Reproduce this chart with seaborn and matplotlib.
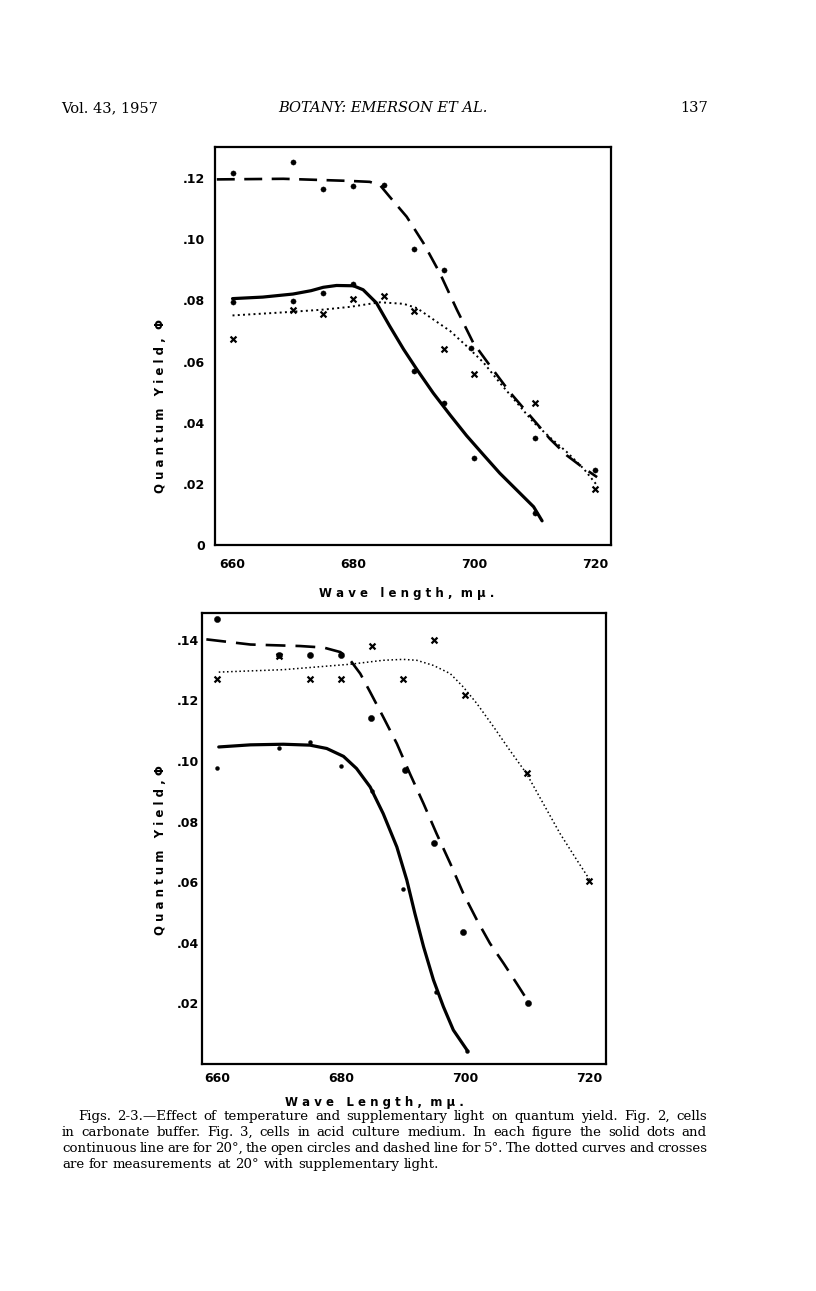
import matplotlib
matplotlib.use("Agg")
import matplotlib.pyplot as plt
import seaborn as sns

# ---------------- data: Fig. 2 (top) ----------------
top_pts_x = [660, 670, 675, 680, 690, 695, 700, 710]
top_dots20_y = [0.0794, 0.0799, 0.0823, 0.0855, 0.0569, 0.0464, 0.0285, 0.0105]

top_pts5_x = [660, 670, 675, 680, 685, 690, 695, 699.5, 710, 720]
top_dots5_y = [0.1216, 0.1252, 0.1165, 0.1176, 0.1179, 0.0969, 0.0898, 0.0644, 0.0349, 0.0244]

top_cross_x = [660, 670, 675, 680, 685, 690, 695, 700, 710, 720]
top_cross_y = [0.0675, 0.0770, 0.0757, 0.0806, 0.0816, 0.0765, 0.0640, 0.0559, 0.0463, 0.0184]

top_solid_cx = [660, 665, 670, 673, 675, 677.2, 680, 681.6, 683.8, 686, 688.3, 690.5, 693.2, 696,
                698.7, 701.5, 704.2, 707, 709.8, 711.2]
top_solid_cy = [0.0806, 0.0811, 0.0821, 0.0832, 0.0843, 0.0849, 0.0848, 0.0835, 0.0792, 0.0716,
                0.0640, 0.0574, 0.0497, 0.0425, 0.0358, 0.0295, 0.0235, 0.0180, 0.0125, 0.0079]

top_dash_cx = [657.4, 668.4, 679.4, 682.7, 684.4, 686, 688.8, 691.6, 694.3, 697.1, 699.8, 702.6,
               705.9, 709.2, 712.5, 715.3, 717.5, 720.3]
top_dash_cy = [0.1196, 0.1198, 0.1191, 0.1188, 0.1177, 0.1139, 0.1074, 0.0987, 0.0889, 0.0770,
               0.0662, 0.0586, 0.0499, 0.0423, 0.0347, 0.0293, 0.0260, 0.0222]

top_dot_cx = [660, 668.4, 675, 679.4, 684.4, 688.3, 690.5, 693.2, 696, 698.7, 701.5, 704.2, 707,
              709.8, 712.5, 715.3, 718.1, 720.3]
top_dot_cy = [0.0751, 0.0761, 0.0770, 0.0779, 0.0794, 0.0789, 0.0775, 0.0738, 0.0700, 0.0651,
              0.0597, 0.0531, 0.0466, 0.0401, 0.0352, 0.0304, 0.0249, 0.0195]

top_yticks = [0.0, 0.02, 0.04, 0.06, 0.08, 0.10, 0.12]
top_yticklabels = ["0", ".02", ".04", ".06", ".08", ".10", ".12"]

# ---------------- data: Fig. 3 (bottom) ----------------
bot_dots20_x = [660, 670, 675, 680, 685, 690, 695.3, 700.3]
bot_dots20_y = [0.0978, 0.1043, 0.1064, 0.0982, 0.0901, 0.0578, 0.0238, 0.0043]

bot_dots5_x = [660, 670, 675, 680, 684.8, 690.3, 695, 699.7, 710.2]
bot_dots5_y = [0.1467, 0.1348, 0.1351, 0.1351, 0.1140, 0.0969, 0.0730, 0.0436, 0.0200]

bot_cross_x = [660, 670, 675, 680, 685, 690, 695, 700, 710, 720]
bot_cross_y = [0.1269, 0.1346, 0.1269, 0.1269, 0.1379, 0.1269, 0.1400, 0.1216, 0.0959, 0.0603]

bot_solid_cx = [660.3, 665.4, 670.7, 675, 677.7, 680.4, 682.5, 684.7, 686.8, 689, 690.6, 691.9,
                693.3, 694.9, 696.5, 698.1, 700.3]
bot_solid_cy = [0.1046, 0.1053, 0.1055, 0.1052, 0.1041, 0.1015, 0.0975, 0.0914, 0.0826, 0.0716,
                0.0607, 0.0497, 0.0387, 0.0277, 0.0189, 0.0112, 0.0046]

bot_dash_cx = [658.3, 665.4, 673.4, 677.2, 679.9, 681.5, 683.1, 684.7, 686.8, 689, 691.1, 693.3,
               695.4, 697.6, 699.7, 701.9, 704, 706.2, 708.3, 710.2]
bot_dash_cy = [0.1401, 0.1384, 0.1379, 0.1374, 0.1359, 0.1332, 0.1288, 0.1227, 0.1145, 0.1057,
               0.0958, 0.0859, 0.0760, 0.0662, 0.0563, 0.0475, 0.0398, 0.0332, 0.0266, 0.0205]

bot_dot_cx = [660.3, 665.4, 670.7, 676.1, 681.5, 686.8, 690, 692.2, 694.9, 697.6, 699.7, 701.9,
              704.6, 707.2, 709.9, 712.6, 715.3, 718, 720.1]
bot_dot_cy = [0.1293, 0.1297, 0.1301, 0.1310, 0.1319, 0.1332, 0.1335, 0.1332, 0.1315, 0.1288,
              0.1244, 0.1189, 0.1112, 0.1035, 0.0958, 0.0859, 0.0760, 0.0673, 0.0607]

bot_yticks = [0.02, 0.04, 0.06, 0.08, 0.10, 0.12, 0.14]
bot_yticklabels = [".02", ".04", ".06", ".08", ".10", ".12", ".14"]

xticks = [660, 680, 700, 720]
xticklabels = ["660", "680", "700", "720"]

header_left = "Vol. 43, 1957"
header_mid = "BOTANY: EMERSON ET AL."
header_right = "137"
caption_lines = [
    "Figs. 2-3.\u2014Effect of temperature and supplementary light on quantum yield.  Fig. 2, cells",
    "in carbonate buffer.  Fig. 3, cells in acid culture medium.  In each figure the solid dots and",
    "continuous line are for 20\u00b0, the open circles and dashed line for 5\u00b0.   The dotted curves and crosses",
    "are for measurements at 20\u00b0 with supplementary light.",
]

# ---------------- figure ----------------
sns.set_theme(style="white")
plt.rcParams["font.family"] = ["DejaVu Sans"]
for k in ["text.color", "axes.labelcolor", "xtick.color", "ytick.color", "axes.edgecolor"]:
    plt.rcParams[k] = "black"
W, H = 816, 1291
fig = plt.figure(figsize=(W / 100, H / 100), dpi=100)
fig.patch.set_facecolor("white")


def px_axes(l, r, t, b):
    return fig.add_axes([l / W, 1 - b / H, (r - l) / W, (b - t) / H])


ax1 = px_axes(215, 611, 147, 545)
ax2 = px_axes(202, 606, 613, 1064)


def spaced(s):
    return " ".join(s)


def draw(ax, solid, dash, dot, dots20, dots5, cross, dash_pat, s20, s5, dot_lw):
    sns.lineplot(x=solid[0], y=solid[1], ax=ax, color="black", linewidth=2.3, sort=False)
    sns.lineplot(x=dash[0], y=dash[1], ax=ax, color="black", linewidth=1.9, sort=False,
                 linestyle=(0, dash_pat))
    sns.lineplot(x=dot[0], y=dot[1], ax=ax, color="black", linewidth=dot_lw, sort=False,
                 linestyle=(0, (1, 1.7)))
    sns.scatterplot(x=dots20[0], y=dots20[1], ax=ax, color="black", s=s20, marker="o",
                    edgecolor="black", linewidth=0.3, zorder=5)
    sns.scatterplot(x=dots5[0], y=dots5[1], ax=ax, color="black", s=s5, marker="o",
                    edgecolor="black", linewidth=0.3, zorder=5)
    sns.scatterplot(x=cross[0], y=cross[1], ax=ax, color="black", s=18, marker="x",
                    linewidth=1.6, zorder=5)


draw(ax1, (top_solid_cx, top_solid_cy), (top_dash_cx, top_dash_cy), (top_dot_cx, top_dot_cy),
     (top_pts_x, top_dots20_y), (top_pts5_x, top_dots5_y), (top_cross_x, top_cross_y),
     (6.8, 3.6), 14, 14, 1.4)
draw(ax2, (bot_solid_cx, bot_solid_cy), (bot_dash_cx, bot_dash_cy), (bot_dot_cx, bot_dot_cy),
     (bot_dots20_x, bot_dots20_y), (bot_dots5_x, bot_dots5_y), (bot_cross_x, bot_cross_y),
     (7.5, 3.8), 8, 20, 1.1)

ax1.set_xlim(657.1, 722.6)
ax1.set_ylim(0.0005, 0.1302)
ax2.set_xlim(657.6, 722.7)
ax2.set_ylim(0.0, 0.1488)

tick_font = dict(fontsize=9, fontweight="bold", family="DejaVu Sans", color="black")
for ax, yt, ytl, ypad, xpad in [(ax1, top_yticks, top_yticklabels, 7, 9),
                                (ax2, bot_yticks, bot_yticklabels, 2.5, 6)]:
    ax.set_xticks(xticks)
    ax.set_xticklabels(xticklabels, **tick_font)
    ax.set_yticks(yt)
    ax.set_yticklabels(ytl, **tick_font)
    ax.tick_params(axis="both", direction="in", length=5, width=1.5, color="black")
    ax.tick_params(axis="y", pad=ypad)
    ax.tick_params(axis="x", pad=xpad)
    for sp in ax.spines.values():
        sp.set_visible(True)
        sp.set_color("black")
        sp.set_linewidth(1.6)
    ax.set_facecolor("white")

lab_font = dict(fontsize=8.5, fontweight="bold", family="DejaVu Sans", color="black")
ax1.set_ylabel(spaced("Quantum Yield,") + "  \u03a6", **lab_font)
ax1.yaxis.set_label_coords(-0.121, 0.35)
ax1.set_xlabel(spaced("Wave length,") + "  " + spaced("m\u03bc."), **lab_font)
ax1.xaxis.set_label_coords(0.485, -0.105)

ax2.set_ylabel(spaced("Quantum Yield,") + " \u03a6", **lab_font)
ax2.yaxis.set_label_coords(-0.087, 0.474)
ax2.set_xlabel(spaced("Wave Length,") + "  " + spaced("m\u03bc."), **lab_font)
ax2.xaxis.set_label_coords(0.428, -0.072)

# header
serif = ["DejaVu Serif"]
fig.text(61 / W, 1 - 112 / H, header_left, fontsize=10.5, family=serif, va="baseline", ha="left")
fig.text(383 / W, 1 - 112 / H, header_mid, fontsize=10.5, family=serif, style="italic",
         va="baseline", ha="center")
fig.text(708 / W, 1 - 112 / H, header_right, fontsize=10.5, family=serif, va="baseline",
         ha="right")

# caption (justified)
fig.canvas.draw()
renderer = fig.canvas.get_renderer()


def justified(text, x0, x1, y, justify=True, **kw):
    words = text.split()
    objs = [fig.text(0, 1 - y / H, w, va="baseline", ha="left", **kw) for w in words]
    widths = [o.get_window_extent(renderer).width for o in objs]
    if justify and len(words) > 1:
        gap = ((x1 - x0) - sum(widths)) / (len(words) - 1)
    else:
        gap = objs[0].get_fontsize() * 100 / 72 * 0.35
    x = x0
    for o, w in zip(objs, widths):
        o.set_x(x / W)
        x += w + gap


cap_kw = dict(fontsize=9.6, family=serif)
justified(caption_lines[0], 78, 707, 1120, **cap_kw)
justified(caption_lines[1], 62, 707, 1136, **cap_kw)
justified(caption_lines[2], 62, 707, 1152, **cap_kw)
justified(caption_lines[3], 62, 707, 1168, justify=False, **cap_kw)

fig.savefig("out.png", dpi=100, facecolor="white")
